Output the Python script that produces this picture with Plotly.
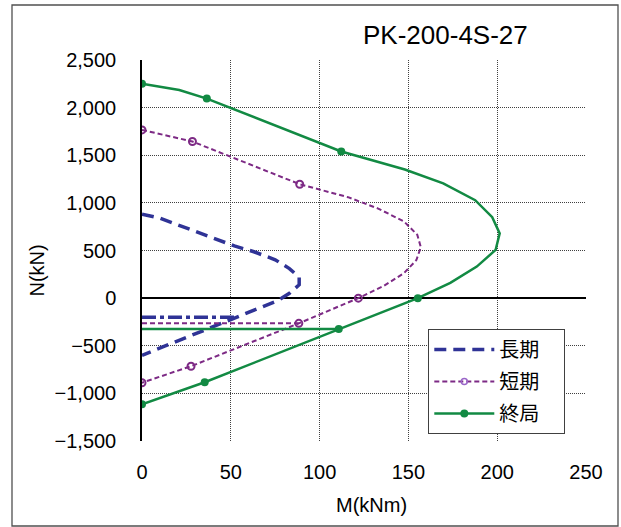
import plotly.graph_objects as go

# ---- M-N interaction data (M in kNm, N in kN) ----
# long-term allowable (長期)
long_M = [0, 10, 52, 63, 75, 83, 88.5, 88.5, 83, 76, 0]
long_N = [881, 840, 548, 487, 403, 310, 220, 140, 50, -30, -600]
long_cut_M = [0, 54]
long_cut_N = [-200, -200]

# short-term allowable (短期)
short_M = [0, 28.4, 88.8, 116, 133, 147.5, 155, 157, 154.5, 147.5, 136, 121.8, 88.3, 27.6, 0]
short_N = [1766, 1644, 1196, 1060, 940, 805, 665, 535, 400, 262, 127, 0, -265, -715, -888]
short_mark = [1, 1, 1, 0, 0, 0, 0, 0, 0, 0, 0, 1, 1, 1, 1]
short_cut_M = [0, 88.3]
short_cut_N = [-265, -265]

# ultimate (終局)
ult_M = [0, 21, 36.5, 112.2, 148, 169.6, 187.6, 197.2, 201.4, 199.1, 188.5, 173.6, 155.3, 110.8, 35.3, 0]
ult_N = [2250, 2185, 2095, 1540, 1350, 1204, 1028, 850, 680, 506, 331, 160, 0, -325, -883, -1115]
ult_mark = [1, 0, 1, 1, 0, 0, 0, 0, 0, 0, 0, 0, 1, 1, 1, 1]
ult_cut_M = [0, 110.8]
ult_cut_N = [-325, -325]

series_names = ["長期", "短期", "終局"]
chart_title = "PK-200-4S-27"
x_title = "M(kNm)"
y_title = "N(kN)"

NAVY = "#2F3396"
PURPLE = "#7D2A85"
GREEN = "#128A43"

W, H = 621, 527
L, R, T, B = 142, 35, 60, 86
PW, PH = W - L - R, H - T - B


def px_x(px):
    return (px - L) / PW


def px_y(py):
    return (H - B - py) / PH


def pick(vals, flags):
    return [v for v, f in zip(vals, flags) if f]


fig = go.Figure()

long_line = dict(color=NAVY, width=3.5, dash="12px,7px")
short_line = dict(color=PURPLE, width=2, dash="5px,3px")
ult_line = dict(color=GREEN, width=2.5)
short_marker = dict(symbol="circle-open", size=7, color=PURPLE, line=dict(width=2))
ult_marker = dict(symbol="circle", size=8, color=GREEN)

# long-term
fig.add_trace(go.Scatter(x=long_M, y=long_N, mode="lines", line=long_line, showlegend=False))
fig.add_trace(go.Scatter(x=long_cut_M, y=long_cut_N, mode="lines",
                         line=dict(color=NAVY, width=3.5, dash="14px,4px,4px,4px"), showlegend=False))

# short-term
fig.add_trace(go.Scatter(x=short_M + [None] + short_cut_M, y=short_N + [None] + short_cut_N,
                         mode="lines", line=short_line, showlegend=False))
fig.add_trace(go.Scatter(x=pick(short_M, short_mark), y=pick(short_N, short_mark),
                         mode="markers", marker=short_marker, showlegend=False))

# ultimate
fig.add_trace(go.Scatter(x=ult_M + [None] + ult_cut_M, y=ult_N + [None] + ult_cut_N,
                         mode="lines", line=ult_line, showlegend=False))
fig.add_trace(go.Scatter(x=pick(ult_M, ult_mark), y=pick(ult_N, ult_mark),
                         mode="markers", marker=ult_marker, showlegend=False))

# legend entries (full-width space widens the legend box)
pad = "\u3000"
fig.add_trace(go.Scatter(x=[None], y=[None], mode="lines", line=long_line,
                         name=series_names[0] + pad, legendgroup="g1"))
fig.add_trace(go.Scatter(x=[None], y=[None], mode="lines+markers", line=short_line,
                         marker=dict(symbol="circle-open", size=6, color="#9A66C8", line=dict(width=1.5)),
                         name=series_names[1] + pad, legendgroup="g2"))
fig.add_trace(go.Scatter(x=[None], y=[None], mode="lines+markers", line=ult_line,
                         marker=dict(symbol="circle", size=8, color=GREEN),
                         name=series_names[2] + pad, legendgroup="g3"))

axis_font = dict(family="Liberation Sans, Arial, sans-serif", size=20, color="black")
grid = dict(showgrid=True, gridcolor="#404040", gridwidth=1, griddash="1px,1px")

fig.update_xaxes(range=[0, 250], dtick=50, tick0=0, tickfont=axis_font, ticks="",
                 ticklabelstandoff=17, zeroline=False, showline=False, **grid)
fig.update_yaxes(range=[-1500, 2500], dtick=500, tick0=0, tickformat=",", tickfont=axis_font,
                 ticks="", ticklabelstandoff=20, zeroline=True, zerolinecolor="black",
                 zerolinewidth=1.5, showline=True, linecolor="black", linewidth=1.5, **grid)

fig.add_annotation(text=chart_title, x=px_x(445.5), y=px_y(35), xref="paper", yref="paper",
                   showarrow=False, xanchor="center", yanchor="middle",
                   font=dict(family="Liberation Sans, Arial, sans-serif", size=26, color="black"))
fig.add_annotation(text=x_title, x=px_x(371), y=px_y(505), xref="paper", yref="paper",
                   showarrow=False, xanchor="center", yanchor="middle", font=axis_font)
fig.add_annotation(text=y_title, x=px_x(36), y=px_y(270.5), xref="paper", yref="paper",
                   showarrow=False, xanchor="center", yanchor="middle", textangle=-90, font=axis_font)

# outer chart frame
fig.add_shape(type="rect", xref="paper", yref="paper", x0=px_x(12), x1=px_x(618),
              y0=px_y(526), y1=px_y(5), line=dict(color="#505050", width=1.3), layer="below")

fig.update_layout(
    width=W, height=H,
    margin=dict(l=L, r=R, t=T, b=B),
    paper_bgcolor="white", plot_bgcolor="white",
    legend=dict(x=px_x(428.3), y=px_y(329), xanchor="left", yanchor="top",
                bgcolor="white", bordercolor="#404040", borderwidth=1,
                font=dict(family="Noto Sans CJK JP", size=20, color="black"),
                traceorder="grouped", tracegroupgap=3, itemwidth=60),
)

fig.write_html("out.html")
